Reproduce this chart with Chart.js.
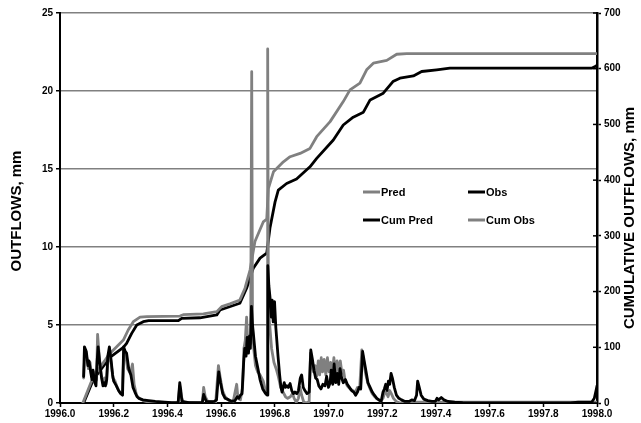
<!DOCTYPE html>
<html>
<head>
<meta charset="utf-8">
<script src="https://cdn.jsdelivr.net/npm/chart.js@4.4.1/dist/chart.umd.min.js"></script>
<style>
  html, body { margin: 0; padding: 0; background: #fff; }
  #wrap { width: 641px; height: 423px; }
</style>
</head>
<body>
<div id="wrap"><canvas id="outflowChart" width="641" height="423"></canvas></div>
<script>
// Daily outflows, mm  ([decimal year, mm])
const predOutflow = [
  [1996.088, 1.6], [1996.092, 3.0], [1996.100, 2.9], [1996.106, 2.2], [1996.112, 2.6],
  [1996.118, 1.7], [1996.124, 2.0], [1996.130, 1.3], [1996.136, 1.5], [1996.140, 4.4],
  [1996.146, 3.0], [1996.153, 1.8], [1996.160, 1.3], [1996.166, 1.6], [1996.172, 1.2],
  [1996.178, 2.6], [1996.184, 3.3], [1996.190, 2.6], [1996.197, 1.6], [1996.205, 1.4],
  [1996.213, 1.0], [1996.222, 0.7], [1996.232, 0.6], [1996.238, 3.4], [1996.245, 3.0],
  [1996.252, 2.2], [1996.262, 1.9], [1996.270, 2.5], [1996.276, 1.2], [1996.285, 0.5],
  [1996.295, 0.3], [1996.310, 0.15], [1996.330, 0.05], [1996.360, 0.02], [1996.440, 0.0],
  [1996.446, 1.1], [1996.452, 0.4], [1996.460, 0.05], [1996.530, 0.0], [1996.535, 1.0],
  [1996.541, 0.4], [1996.550, 0.1], [1996.580, 0.05], [1996.590, 2.4], [1996.597, 1.6],
  [1996.605, 0.8], [1996.615, 0.4], [1996.630, 0.15], [1996.645, 0.1], [1996.658, 1.2],
  [1996.663, 0.3], [1996.672, 0.2], [1996.680, 1.0], [1996.685, 3.5], [1996.690, 4.0],
  [1996.695, 5.5], [1996.700, 3.5], [1996.705, 4.0], [1996.710, 3.8], [1996.714, 21.24],
  [1996.717, 4.8], [1996.722, 3.4], [1996.728, 2.4], [1996.736, 2.0], [1996.745, 1.8],
  [1996.757, 1.4], [1996.765, 0.8], [1996.771, 0.6], [1996.7735, 22.7], [1996.776, 6.0],
  [1996.782, 4.8], [1996.788, 3.5], [1996.797, 2.6], [1996.805, 2.2], [1996.813, 1.7],
  [1996.822, 1.0], [1996.831, 0.7], [1996.840, 0.4], [1996.848, 0.3], [1996.858, 0.4],
  [1996.866, 0.6], [1996.872, 0.3], [1996.880, 0.05], [1996.888, 0.3], [1996.894, 1.0],
  [1996.900, 0.5], [1996.908, 0.05], [1996.920, 0.0], [1996.928, 0.1], [1996.933, 3.2],
  [1996.938, 2.6], [1996.944, 2.0], [1996.950, 2.4], [1996.956, 1.7], [1996.962, 2.7],
  [1996.967, 1.8], [1996.973, 2.9], [1996.978, 2.0], [1996.984, 2.8], [1996.990, 1.8],
  [1996.996, 2.9], [1997.002, 2.0], [1997.008, 2.6], [1997.014, 1.8], [1997.020, 2.9],
  [1997.026, 1.9], [1997.032, 2.7], [1997.038, 2.0], [1997.044, 2.7], [1997.050, 1.9],
  [1997.056, 2.1], [1997.062, 1.4], [1997.070, 1.1], [1997.080, 0.9], [1997.090, 0.8],
  [1997.100, 0.7], [1997.108, 1.0], [1997.116, 0.9], [1997.124, 3.4], [1997.131, 2.7],
  [1997.138, 1.9], [1997.146, 1.3], [1997.155, 0.9], [1997.163, 0.6], [1997.172, 0.4],
  [1997.182, 0.25], [1997.195, 0.1], [1997.203, 0.3], [1997.210, 0.7], [1997.217, 0.6],
  [1997.222, 0.4], [1997.228, 0.8], [1997.234, 0.6], [1997.242, 0.3], [1997.252, 0.1],
  [1997.266, 0.0], [1997.280, 0.05], [1998.0, 0.05]
];

const obsOutflow = [
  [1996.088, 1.7], [1996.091, 3.6], [1996.098, 3.3], [1996.104, 2.4], [1996.108, 2.7],
  [1996.115, 1.9], [1996.119, 1.5], [1996.123, 2.1], [1996.128, 1.4], [1996.134, 1.1],
  [1996.138, 2.6], [1996.142, 3.6], [1996.148, 2.6], [1996.155, 1.6], [1996.160, 1.1],
  [1996.165, 1.3], [1996.169, 1.1], [1996.174, 1.5], [1996.178, 3.0], [1996.184, 3.6],
  [1996.190, 2.8], [1996.196, 1.8], [1996.200, 1.4], [1996.210, 1.1], [1996.218, 0.8],
  [1996.226, 0.6], [1996.233, 0.5], [1996.237, 3.6], [1996.243, 3.3], [1996.248, 3.2],
  [1996.256, 2.2], [1996.264, 1.8], [1996.272, 1.0], [1996.279, 0.7], [1996.287, 0.4],
  [1996.294, 0.3], [1996.309, 0.2], [1996.330, 0.15], [1996.355, 0.1], [1996.390, 0.05],
  [1996.416, 0.02], [1996.440, 0.02], [1996.446, 1.3], [1996.450, 0.8], [1996.454, 0.1],
  [1996.480, 0.02], [1996.530, 0.02], [1996.535, 0.55], [1996.540, 0.3], [1996.545, 0.1],
  [1996.560, 0.08], [1996.575, 0.1], [1996.583, 0.2], [1996.591, 2.0], [1996.598, 1.3],
  [1996.606, 0.6], [1996.615, 0.3], [1996.629, 0.2], [1996.640, 0.1], [1996.652, 0.15],
  [1996.660, 0.4], [1996.666, 0.3], [1996.672, 0.5], [1996.678, 0.6], [1996.684, 2.6],
  [1996.688, 3.5], [1996.693, 3.0], [1996.697, 4.2], [1996.702, 3.2], [1996.706, 4.3],
  [1996.709, 3.5], [1996.713, 6.2], [1996.717, 5.0], [1996.721, 4.3], [1996.728, 3.0],
  [1996.736, 2.3], [1996.745, 1.5], [1996.755, 0.9], [1996.766, 0.6], [1996.771, 0.5],
  [1996.774, 8.8], [1996.778, 7.5], [1996.782, 6.8], [1996.787, 5.5], [1996.790, 6.6],
  [1996.794, 5.2], [1996.799, 6.5], [1996.804, 4.8], [1996.812, 3.0], [1996.818, 1.8],
  [1996.823, 1.0], [1996.827, 0.7], [1996.835, 1.3], [1996.840, 1.0], [1996.845, 1.1],
  [1996.850, 1.0], [1996.857, 1.25], [1996.863, 0.8], [1996.869, 0.6], [1996.875, 0.7],
  [1996.882, 0.6], [1996.888, 0.8], [1996.895, 1.6], [1996.900, 1.8], [1996.906, 1.0],
  [1996.912, 0.8], [1996.920, 0.6], [1996.928, 0.7], [1996.934, 3.4], [1996.940, 2.8],
  [1996.946, 2.1], [1996.952, 1.6], [1996.958, 1.5], [1996.964, 1.1], [1996.972, 0.9],
  [1996.979, 1.2], [1996.987, 1.1], [1996.993, 1.7], [1997.000, 1.0], [1997.006, 1.3],
  [1997.010, 2.1], [1997.016, 1.2], [1997.021, 2.5], [1997.027, 1.3], [1997.033, 1.9],
  [1997.038, 1.2], [1997.043, 2.2], [1997.049, 1.6], [1997.055, 1.3], [1997.063, 1.5],
  [1997.070, 1.2], [1997.078, 1.0], [1997.086, 0.8], [1997.094, 0.7], [1997.101, 0.5],
  [1997.108, 0.7], [1997.114, 1.0], [1997.120, 0.9], [1997.127, 3.3], [1997.133, 2.7],
  [1997.140, 2.0], [1997.147, 1.3], [1997.155, 1.0], [1997.163, 0.7], [1997.171, 0.5],
  [1997.180, 0.3], [1997.188, 0.2], [1997.196, 0.1], [1997.203, 0.7], [1997.208, 0.9],
  [1997.213, 1.2], [1997.218, 0.8], [1997.223, 1.4], [1997.228, 1.2], [1997.233, 1.9],
  [1997.238, 1.6], [1997.245, 1.0], [1997.253, 0.5], [1997.262, 0.3], [1997.272, 0.2],
  [1997.285, 0.1], [1997.300, 0.1], [1997.310, 0.2], [1997.320, 0.15], [1997.328, 0.5],
  [1997.332, 1.4], [1997.338, 1.0], [1997.345, 0.5], [1997.355, 0.25], [1997.370, 0.15],
  [1997.385, 0.1], [1997.398, 0.1], [1997.404, 0.3], [1997.410, 0.2], [1997.420, 0.35],
  [1997.430, 0.2], [1997.445, 0.1], [1997.470, 0.05], [1997.500, 0.02], [1997.600, 0.0],
  [1997.900, 0.0], [1997.930, 0.05], [1997.980, 0.05], [1997.990, 0.3], [1997.997, 0.85],
  [1998.0, 1.1]
];

// Cumulative outflows, mm
const cumPred = [
  [1996.088, 0], [1996.124, 42], [1996.186, 82], [1996.236, 100], [1996.248, 107],
  [1996.267, 125], [1996.286, 140], [1996.310, 146], [1996.330, 148], [1996.441, 148],
  [1996.453, 152], [1996.521, 153], [1996.584, 158], [1996.596, 167], [1996.670, 179],
  [1996.695, 206], [1996.720, 242], [1996.745, 260], [1996.770, 269], [1996.782, 314],
  [1996.801, 361], [1996.813, 382], [1996.844, 394], [1996.881, 402], [1996.931, 424],
  [1996.956, 439], [1997.018, 472], [1997.055, 499], [1997.092, 513], [1997.130, 522],
  [1997.155, 544], [1997.204, 556], [1997.240, 577], [1997.266, 583], [1997.316, 587],
  [1997.347, 595], [1997.403, 598], [1997.452, 601], [1997.980, 601], [1997.993, 604],
  [1998.0, 606]
];

const cumObs = [
  [1996.085, 0], [1996.124, 47], [1996.186, 89], [1996.236, 113], [1996.254, 131],
  [1996.273, 146], [1996.298, 154], [1996.323, 155], [1996.447, 156], [1996.459, 158.5],
  [1996.534, 160], [1996.584, 164], [1996.602, 173], [1996.633, 178], [1996.670, 185],
  [1996.689, 206], [1996.708, 239], [1996.726, 290], [1996.757, 325], [1996.770, 330],
  [1996.776, 385], [1996.795, 415], [1996.832, 433], [1996.857, 442], [1996.894, 448],
  [1996.931, 457], [1996.956, 478], [1997.006, 505], [1997.055, 541], [1997.080, 562],
  [1997.117, 574], [1997.142, 598], [1997.167, 610], [1997.217, 615], [1997.254, 626],
  [1997.291, 627], [1998.0, 627]
];

// Axis ranges and labels
const yearRange = [1996.0, 1998.0];
const yearStep = 0.2;
const outflowRange = [0, 25];
const outflowStep = 5;
const cumRange = [0, 700];
const cumStep = 100;
const leftTitle = 'OUTFLOWS, mm';
const rightTitle = 'CUMULATIVE OUTFLOWS, mm';

const GRAY = '#808080';
const BLACK = '#000000';
const FONT = '"Liberation Sans", Arial, sans-serif';

function toPoints(pairs) {
  return pairs.map(([x, y]) => ({ x: x, y: y }));
}

// Legend, axis titles and the crossing ticks on the right axis
const decorations = {
  id: 'decorations',
  afterDraw(chart) {
    const ctx = chart.ctx;
    ctx.save();

    // two-column legend inside the plot
    const items = [
      { label: 'Pred', color: GRAY, x: 363, y: 192 },
      { label: 'Obs', color: BLACK, x: 468, y: 192 },
      { label: 'Cum Pred', color: BLACK, x: 363, y: 220 },
      { label: 'Cum Obs', color: GRAY, x: 468, y: 220 },
    ];
    ctx.font = 'bold 11px ' + FONT;
    ctx.textBaseline = 'middle';
    ctx.textAlign = 'left';
    items.forEach((it) => {
      ctx.strokeStyle = it.color;
      ctx.lineWidth = 3;
      ctx.beginPath();
      ctx.moveTo(it.x, it.y);
      ctx.lineTo(it.x + 17, it.y);
      ctx.stroke();
      ctx.fillStyle = BLACK;
      ctx.fillText(it.label, it.x + 18, it.y + 0.5);
    });

    // rotated axis titles
    const area = chart.chartArea;
    ctx.font = 'bold 15px ' + FONT;
    ctx.textAlign = 'center';
    ctx.fillStyle = BLACK;
    ctx.save();
    ctx.translate(17, (area.top + area.bottom) / 2 + 3);
    ctx.rotate(-Math.PI / 2);
    ctx.fillText(leftTitle, 0, 0);
    ctx.restore();
    ctx.save();
    ctx.translate(630, (area.top + area.bottom) / 2 + 10);
    ctx.rotate(-Math.PI / 2);
    ctx.fillText(rightTitle, 0, 0);
    ctx.restore();

    // inner half of the right-axis ticks
    const y2 = chart.scales.y2;
    ctx.strokeStyle = BLACK;
    ctx.lineWidth = 1.5;
    y2.ticks.forEach((t) => {
      const py = y2.getPixelForValue(t.value);
      ctx.beginPath();
      ctx.moveTo(area.right - 4, py);
      ctx.lineTo(area.right, py);
      ctx.stroke();
    });

    ctx.restore();
  },
};

const ctx = document.getElementById('outflowChart').getContext('2d');
new Chart(ctx, {
  type: 'line',
  data: {
    datasets: [
      { label: 'Obs', data: toPoints(obsOutflow), yAxisID: 'y', borderColor: BLACK, order: 1 },
      { label: 'Pred', data: toPoints(predOutflow), yAxisID: 'y', borderColor: GRAY, order: 2 },
      { label: 'Cum Obs', data: toPoints(cumObs), yAxisID: 'y2', borderColor: GRAY, order: 3 },
      { label: 'Cum Pred', data: toPoints(cumPred), yAxisID: 'y2', borderColor: BLACK, order: 4 },
    ],
  },
  options: {
    responsive: false,
    animation: false,
    events: [],
    layout: { padding: { top: 13, left: 0, right: 0, bottom: 0 } },
    elements: {
      line: { borderWidth: 2.8, tension: 0, fill: false, borderJoinStyle: 'round', borderCapStyle: 'round' },
      point: { radius: 0 },
    },
    plugins: {
      legend: { display: false },
      tooltip: { enabled: false },
    },
    scales: {
      x: {
        type: 'linear',
        min: yearRange[0],
        max: yearRange[1],
        afterFit: (scale) => { scale.height = 20; },
        ticks: {
          stepSize: yearStep,
          autoSkip: false,
          maxRotation: 0,
          padding: 1,
          color: BLACK,
          font: { family: FONT, size: 10, weight: 'bold' },
          callback: (v) => Number(v).toFixed(1),
        },
        grid: { drawOnChartArea: false, tickLength: 4, tickColor: BLACK, tickWidth: 1.5 },
        border: { display: true, color: BLACK, width: 2 },
      },
      y: {
        position: 'left',
        min: outflowRange[0],
        max: outflowRange[1],
        afterFit: (scale) => { scale.width = 60; },
        ticks: {
          stepSize: outflowStep,
          padding: 3,
          color: BLACK,
          font: { family: FONT, size: 10, weight: 'bold' },
        },
        grid: { color: GRAY, lineWidth: 1.5, tickLength: 4, tickColor: BLACK, tickWidth: 1.5 },
        border: { display: true, color: BLACK, width: 2 },
      },
      y2: {
        position: 'right',
        min: cumRange[0],
        max: cumRange[1],
        afterFit: (scale) => { scale.width = 44; },
        ticks: {
          stepSize: cumStep,
          padding: 3,
          color: BLACK,
          font: { family: FONT, size: 10, weight: 'bold' },
        },
        grid: { drawOnChartArea: false, tickLength: 4, tickColor: BLACK, tickWidth: 1.5 },
        border: { display: true, color: BLACK, width: 2.5 },
      },
    },
  },
  plugins: [decorations],
});
</script>
</body>
</html>
